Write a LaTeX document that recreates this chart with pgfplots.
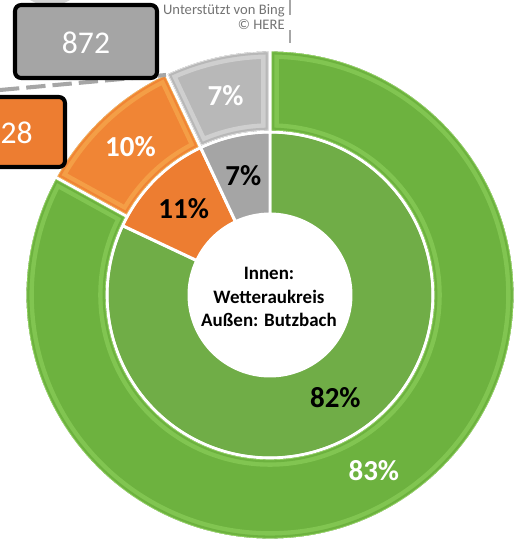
\documentclass[border=0pt]{standalone}
\usepackage{pgfplots}
\pgfplotsset{compat=1.18}
\usepackage{pgfplotstable}
\usepackage{fontspec}
\setmainfont{Carlito}

\definecolor{grnI}{HTML}{70AD47}
\definecolor{grnO}{HTML}{6DB23F}
\definecolor{grnL}{HTML}{9BDD68}
\definecolor{orgI}{HTML}{ED7D31}
\definecolor{orgO}{HTML}{F08535}
\definecolor{orgL}{HTML}{F9BE5C}
\definecolor{gryI}{HTML}{A5A5A5}
\definecolor{gryO}{HTML}{B8B8B8}
\definecolor{gryL}{HTML}{EDEDED}
\definecolor{leadgray}{HTML}{A6A6A6}
\definecolor{bing}{HTML}{737373}

% shares in percent, clockwise from 12 o'clock: green, orange, gray
\pgfplotstableread{
share
82
11
7
}\innertable
\pgfplotstableread{
share
83
10
7
}\outertable

\pgfplotstablegetelem{0}{share}\of\innertable \let\iA\pgfplotsretval
\pgfplotstablegetelem{1}{share}\of\innertable \let\iB\pgfplotsretval
\pgfplotstablegetelem{2}{share}\of\innertable \let\iC\pgfplotsretval
\pgfplotstablegetelem{0}{share}\of\outertable \let\oA\pgfplotsretval
\pgfplotstablegetelem{1}{share}\of\outertable \let\oB\pgfplotsretval
\pgfplotstablegetelem{2}{share}\of\outertable \let\oC\pgfplotsretval

\pgfmathsetmacro\iaE{90-3.6*\iA}
\pgfmathsetmacro\ibE{\iaE-3.6*\iB}
\pgfmathsetmacro\icE{\ibE-3.6*\iC}
\pgfmathsetmacro\oaE{90-3.6*\oA}
\pgfmathsetmacro\obE{\oaE-3.6*\oB}
\pgfmathsetmacro\ocE{\obE-3.6*\oC}
\pgfmathsetmacro\iaM{(90+\iaE)/2}
\pgfmathsetmacro\ibM{(\iaE+\ibE)/2}
\pgfmathsetmacro\icM{(\ibE+\icE)/2}
\pgfmathsetmacro\oaM{(90+\oaE)/2}
\pgfmathsetmacro\obM{(\oaE+\obE)/2}
\pgfmathsetmacro\ocM{(\obE+\ocE)/2}

% radii (1px = 0.02cm)
\def\rH{1.62cm}
\def\rM{3.26cm}
\def\rO{4.90cm}
\def\rIL{2.44cm}
\def\rOL{4.08cm}

\newcommand\wpath[4]{([shift={(#1:#4)}]axis cs:270,254) arc[start angle=#1,end angle=#2,radius=#4] -- ([shift={(#2:#3)}]axis cs:270,254) arc[start angle=#2,end angle=#1,radius=#3] -- cycle}

\newcommand\flatwedge[5]{%
  \fill[#5] \wpath{#1}{#2}{#3}{#4};
  \draw[white, line width=1.7pt] \wpath{#1}{#2}{#3}{#4};}
\newcommand\bevelwedge[6]{%
  \begin{scope}
  \clip \wpath{#1}{#2}{#3}{#4};
  \fill[#5] \wpath{#1}{#2}{#3}{#4};
  \draw[#6, line width=10pt, opacity=0.45] \wpath{#1}{#2}{#3}{#4};
  \draw[#5, line width=5pt] \wpath{#1}{#2}{#3}{#4};
  \draw[#6, line width=2.4pt] \wpath{#1}{#2}{#3}{#4};
  \draw[#5!80!black, line width=1.6pt] \wpath{#1}{#2}{#3}{#4};
  \end{scope}
  \draw[white, line width=1.5pt] \wpath{#1}{#2}{#3}{#4};}

\begin{document}
\begin{tikzpicture}
\begin{axis}[hide axis, x=0.02cm, y=0.02cm, xmin=0, xmax=521, ymin=0, ymax=549,
  scale only axis, clip=false]
% inner ring
\flatwedge{90}{\iaE}{\rH}{\rM}{grnI}
\flatwedge{\iaE}{\ibE}{\rH}{\rM}{orgI}
\flatwedge{\ibE}{\icE}{\rH}{\rM}{gryI}
% outer ring
\bevelwedge{90}{\oaE}{\rM}{\rO}{grnO}{grnL}
\bevelwedge{\oaE}{\obE}{\rM}{\rO}{orgO}{orgL}
\bevelwedge{\obE}{\ocE}{\rM}{\rO}{gryO}{gryL}
% labels
\node[font=\bfseries\fontsize{16.5}{18}\selectfont, text=black] at ([shift={(\iaM:\rIL)}]axis cs:270,254) {\iA\%};
\node[font=\bfseries\fontsize{16.5}{18}\selectfont, text=black] at ([shift={(\ibM:\rIL)}]axis cs:270,254) {\iB\%};
\node[font=\bfseries\fontsize{16.5}{18}\selectfont, text=black] at ([shift={(\icM:\rIL)}]axis cs:270,254) {\iC\%};
\node[font=\bfseries\fontsize{16.5}{18}\selectfont, text=white] at ([shift={(\oaM:\rOL)}]axis cs:270,254) {\oA\%};
\node[font=\bfseries\fontsize{16.5}{18}\selectfont, text=white] at ([shift={(\obM:\rOL)}]axis cs:270,254) {\oB\%};
\node[font=\bfseries\fontsize{16.5}{18}\selectfont, text=white] at ([shift={(\ocM:\rOL)}]axis cs:270,254) {\oC\%};
% centre text
\node[align=center, font=\bfseries\fontsize{10.8}{13.6}\selectfont] at (axis cs:269,252) {Innen:\\Wetteraukreis\\Außen: Butzbach};
% map attribution and leader lines
\draw[leadgray, line width=1.7pt, dash pattern=on 8.5pt off 8.5pt] (axis cs:290,549) -- (axis cs:290,506);
\node[anchor=north east, align=right, text=bing, font=\fontsize{8.3}{8.8}\selectfont, inner sep=0pt] at (axis cs:285,545) {Unterstützt von Bing\\© HERE};
\fill[gray!35] (axis cs:30,549) -- (axis cs:70,549) -- (axis cs:64,546) -- (axis cs:36,546) -- cycle;
\draw[leadgray, line width=2.3pt, dash pattern=on 11pt off 4pt] (axis cs:0,459) -- (axis cs:166,474);
% callout boxes
\draw[black, line width=2.3pt, rounded corners=3.5pt, fill=gryI] (axis cs:15,544) rectangle (axis cs:157,471);
\node[text=white, font=\fontsize{18}{20}\selectfont] at (axis cs:86,506) {872};
\draw[black, line width=2.3pt, rounded corners=3.5pt, fill=orgI] (axis cs:-77,452) rectangle (axis cs:65,382);
\node[text=white, font=\fontsize{18}{20}\selectfont, anchor=east, inner sep=0pt] at (axis cs:33,416) {28};
\end{axis}
\pgfresetboundingbox
\path[use as bounding box] (current axis.south west) rectangle (current axis.north east);
\end{tikzpicture}
\end{document}
